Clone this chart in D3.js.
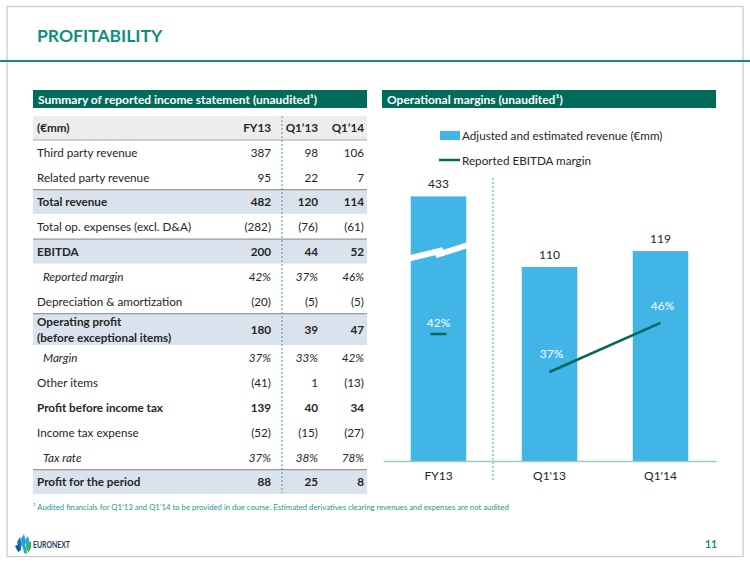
<!DOCTYPE html>
<html>
<head>
<meta charset="utf-8">
<script src="https://cdn.jsdelivr.net/npm/d3@7"></script>
<style>
  html,body{margin:0;padding:0;background:#fff;}
  svg{display:block;font-family:Lato,"Open Sans",sans-serif;}
</style>
</head>
<body>
<svg id="c" width="750" height="563"></svg>
<script>
// ---------------- DATA ----------------
const tableColumns = ["FY13", "Q1’13", "Q1’14"];
const tableRowLabels = [
  "Third party revenue",
  "Related party revenue",
  "Total revenue",
  "Total op. expenses (excl. D&A)",
  "EBITDA",
  "Reported margin",
  "Depreciation & amortization",
  "Operating profit|(before exceptional items)",
  "Margin",
  "Other items",
  "Profit before income tax",
  "Income tax expense",
  "Tax rate",
  "Profit for the period"
];
const tableFY13 = ["387", "95", "482", "(282)", "200", "42%", "(20)", "180", "37%", "(41)", "139", "(52)", "37%", "88"];
const tableQ113 = ["98", "22", "120", "(76)", "44", "37%", "(5)", "39", "33%", "1", "40", "(15)", "38%", "25"];
const tableQ114 = ["106", "7", "114", "(61)", "52", "46%", "(5)", "47", "42%", "(13)", "34", "(27)", "78%", "8"];
const tableRowKind = ["n", "n", "total", "n", "total", "sub", "n", "total2", "sub", "n", "bold", "n", "sub", "total"];

const categories = ["FY13", "Q1'13", "Q1'14"];
const revenue = [433, 110, 119];
const ebitdaMargin = [42, 37, 46];
const breakCap = 150; // displayed height of the broken FY13 bar (axis break)

// ---------------- DRAW ----------------
const svg = d3.select("#c");
const teal = "#0f8f7c", dark = "#006a5b", blue = "#41b5e5", txt = "#262626";
const fs = 11.7;

// frame
svg.append("rect").attr("x", 7).attr("y", 6.5).attr("width", 736).attr("height", 550)
  .attr("fill", "none").attr("stroke", "#c9c9c9").attr("stroke-width", 1.2);
svg.append("text").attr("x", 37).attr("y", 42).text("PROFITABILITY")
  .attr("fill", teal).attr("font-weight", 700).attr("font-size", 17.5);
svg.append("line").attr("x1", 0).attr("x2", 750).attr("y1", 61).attr("y2", 61)
  .attr("stroke", teal).attr("stroke-width", 2);

// header bars
function headerBar(x, w, label) {
  svg.append("rect").attr("x", x).attr("y", 90).attr("width", w).attr("height", 18).attr("fill", dark);
  svg.append("text").attr("x", x + 5).attr("y", 103.5).attr("fill", "#fff")
    .attr("font-weight", 700).attr("font-size", 12).text(label);
}
headerBar(33, 334, "Summary of reported income statement (unaudited¹)");
headerBar(382, 334, "Operational margins (unaudited¹)");

// ---------- table ----------
const tx0 = 33, tx1 = 367;
const colRight = [271, 318, 364];
const rowH = 24.8, tallH = 32;
let yCur = 140;
const rows = tableRowLabels.map((lab, i) => {
  const h = tableRowKind[i] === "total2" ? tallH : rowH;
  const r = {lab, i, y0: yCur, h, kind: tableRowKind[i], vals: [tableFY13[i], tableQ113[i], tableQ114[i]]};
  yCur += h;
  return r;
});
// header row
svg.append("rect").attr("x", tx0).attr("y", 116).attr("width", tx1 - tx0).attr("height", 24).attr("fill", "#ededed");
svg.append("line").attr("x1", tx0).attr("x2", tx1).attr("y1", 140).attr("y2", 140).attr("stroke", "#a6a6a6").attr("stroke-width", 1.2);
svg.append("text").attr("x", 37).attr("y", 132).attr("font-size", fs).attr("font-weight", 700).attr("fill", txt).text("(€mm)");
tableColumns.forEach((c, j) => {
  svg.append("text").attr("x", colRight[j]).attr("y", 132).attr("text-anchor", "end")
    .attr("font-size", fs).attr("font-weight", 700).attr("fill", txt).text(c);
});
// shaded rows
rows.filter(r => r.kind === "total" || r.kind === "total2").forEach(r => {
  svg.append("rect").attr("x", tx0).attr("y", r.y0).attr("width", tx1 - tx0).attr("height", r.h - 0.5).attr("fill", "#dae2ed");
  svg.append("line").attr("x1", tx0).attr("x2", tx1).attr("y1", r.y0).attr("y2", r.y0).attr("stroke", "#9a9a9a").attr("stroke-width", 1.3);
});
rows.forEach(r => {
  const bold = r.kind !== "n" && r.kind !== "sub";
  const ital = r.kind === "sub";
  const cy = r.y0 + r.h / 2 + 4.3;
  const parts = r.lab.split("|");
  parts.forEach((p, k) => {
    svg.append("text").attr("x", ital ? 43 : 37)
      .attr("y", parts.length > 1 ? r.y0 + 12 + k * 16 : cy)
      .attr("font-size", fs).attr("font-weight", bold ? 700 : 400)
      .attr("font-style", ital ? "italic" : "normal").attr("fill", txt).text(p);
  });
  r.vals.forEach((v, j) => {
    svg.append("text").attr("x", colRight[j]).attr("y", cy).attr("text-anchor", "end")
      .attr("font-size", fs).attr("font-weight", bold ? 700 : 400)
      .attr("font-style", ital ? "italic" : "normal").attr("fill", txt).text(v);
  });
});
svg.append("line").attr("x1", 282).attr("x2", 282).attr("y1", 116).attr("y2", 493)
  .attr("stroke", "#3aa89a").attr("stroke-width", 1).attr("stroke-dasharray", "2,2");

// footnote
svg.append("text").attr("x", 33).attr("y", 509.5).attr("font-size", 7.75).attr("fill", "#1e9a87")
  .text("¹ Audited financials for Q1’13 and Q1’14 to be provided in due course. Estimated derivatives clearing revenues and expenses are not audited");

// ---------- chart ----------
const x = d3.scaleBand().domain(categories).range([383, 716]).paddingInner(0.5).paddingOuter(0.25);
const y = d3.scaleLinear().domain([0, 150]).range([461, 196.4]);
const displayVal = v => Math.min(v, breakCap);

const g = svg.append("g");
g.selectAll("rect.bar").data(categories).join("rect").attr("class", "bar")
  .attr("x", d => x(d)).attr("width", x.bandwidth())
  .attr("y", (d, i) => y(displayVal(revenue[i])))
  .attr("height", (d, i) => y(0) - y(displayVal(revenue[i])))
  .attr("fill", blue);

// axis break on FY13 bar
const bx = x(categories[0]), bw = x.bandwidth();
const yb = y(breakCap * 0.77);
g.append("path")
  .attr("d", `M${bx - 1},${yb + 1} L${bx + bw * 0.58},${yb - 7} L${bx + bw * 0.45},${yb - 2} L${bx + bw + 1},${yb - 12}`)
  .attr("fill", "none").attr("stroke", "#fff").attr("stroke-width", 6).attr("stroke-linejoin", "miter");

// value labels
g.selectAll("text.val").data(categories).join("text").attr("class", "val")
  .attr("x", d => x(d) + bw / 2).attr("y", (d, i) => y(displayVal(revenue[i])) - 8)
  .attr("text-anchor", "middle").attr("font-size", 12).attr("fill", txt)
  .text((d, i) => revenue[i]);

// x axis
const xAxis = d3.axisBottom(x).tickSize(0).tickPadding(10);
const ax = svg.append("g").attr("transform", `translate(0,${y(0)})`).call(xAxis);
ax.select(".domain").attr("stroke", "#9ccabf").attr("stroke-width", 1.3);
ax.selectAll("text").attr("font-size", 12).attr("fill", txt).attr("font-family", "Lato,'Open Sans',sans-serif");

// separator
svg.append("line").attr("x1", 493).attr("x2", 493).attr("y1", 178).attr("y2", 480)
  .attr("stroke", "#3aa89a").attr("stroke-width", 1).attr("stroke-dasharray", "2,2");

// EBITDA margin: FY13 panel and quarterly panel
const yFY = d3.scaleLinear().domain([30, 50]).range([399.3, 290.5]);
const yQ = d3.scaleLinear().domain([28, 52]).range([421, 290.3]);
const c0 = x(categories[0]) + bw / 2;
svg.append("line").attr("x1", c0 - 8).attr("x2", c0 + 8).attr("y1", yFY(ebitdaMargin[0])).attr("y2", yFY(ebitdaMargin[0]))
  .attr("stroke", dark).attr("stroke-width", 2.5);
svg.append("text").attr("x", c0).attr("y", yFY(ebitdaMargin[0]) - 7).attr("text-anchor", "middle")
  .attr("font-size", 12).attr("fill", "#fff").text(ebitdaMargin[0] + "%");
const qPts = [1, 2].map(i => [x(categories[i]) + bw / 2, yQ(ebitdaMargin[i]), ebitdaMargin[i]]);
svg.append("path").attr("d", d3.line()(qPts.map(p => [p[0], p[1]])))
  .attr("stroke", dark).attr("stroke-width", 2.5).attr("fill", "none");
qPts.forEach(p => {
  svg.append("text").attr("x", p[0] + 2).attr("y", p[1] - (p[2] === 46 ? 13 : 14)).attr("text-anchor", "middle")
    .attr("font-size", 12).attr("fill", "#fff").text(p[2] + "%");
});

// legend
svg.append("rect").attr("x", 440).attr("y", 131).attr("width", 20).attr("height", 9).attr("fill", blue);
svg.append("text").attr("x", 462).attr("y", 140).attr("font-size", fs).attr("fill", txt).text("Adjusted and estimated revenue (€mm)");
svg.append("line").attr("x1", 439).attr("x2", 460).attr("y1", 160).attr("y2", 160).attr("stroke", dark).attr("stroke-width", 2.5);
svg.append("text").attr("x", 462).attr("y", 164.5).attr("font-size", fs).attr("fill", txt).text("Reported EBITDA margin");

// logo
const logo = svg.append("g").attr("transform", "translate(15,534)");
const leaves = [
  ["M2,8 L5,3 L7,10 L5,17 Z", "#1b75bc"],
  ["M6,5 L9,0 L11,8 L9,16 L7,12 Z", "#2a9fd6"],
  ["M10,6 L13,2 L15,10 L12,18 Z", "#27aae1"],
  ["M0,12 L4,10 L6,16 L3,18 Z", "#0d5fa6"],
  ["M12,10 L16,7 L16,14 L13,19 Z", "#39b54a"],
  ["M8,14 L11,12 L12,20 L9,19 Z", "#2bb673"]
];
leaves.forEach(l => logo.append("path").attr("d", l[0]).attr("fill", l[1]));
svg.append("text").attr("x", 33).attr("y", 547.5).attr("font-size", 8.5).attr("font-weight", 700)
  .attr("fill", "#1f3a5f").attr("textLength", 37).attr("lengthAdjust", "spacingAndGlyphs").text("EURONEXT");
svg.append("text").attr("x", 705).attr("y", 548).attr("font-size", 10.5).attr("font-weight", 700)
  .attr("fill", teal).text("11");
</script>
</body>
</html>
